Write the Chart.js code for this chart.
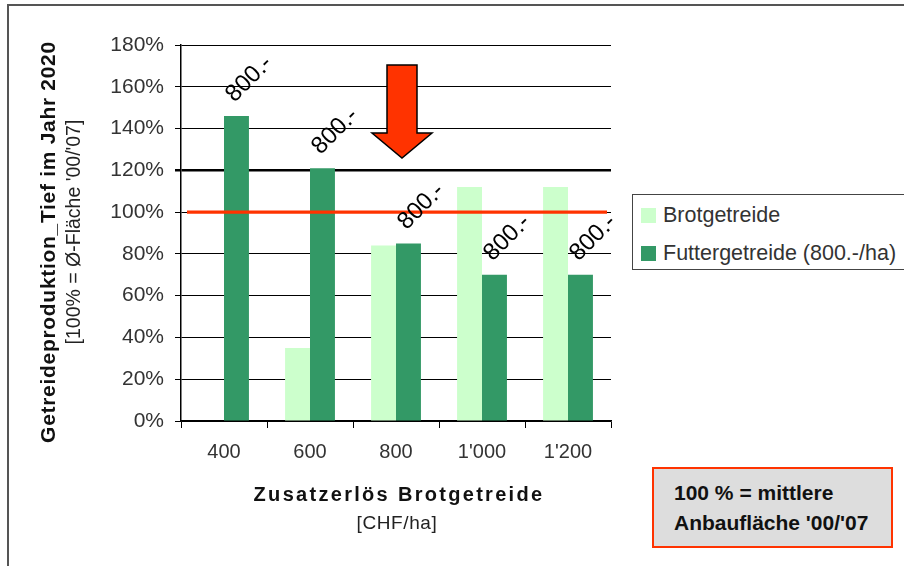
<!DOCTYPE html>
<html>
<head>
<meta charset="utf-8">
<script src="https://cdn.jsdelivr.net/npm/chart.js@4"></script>
<style>
  body { margin: 0; background: #fff; font-family: Arial, "Liberation Sans", sans-serif; }
  #wrap { position: relative; width: 904px; height: 566px; overflow: hidden; }
  #frame { position: absolute; left: 7px; top: 4px; width: 1000px; height: 700px; border-left: 2px solid #555; border-top: 2px solid #555; }
  canvas { position: absolute; left: 0; top: 0; }
  .ytitle { position: absolute; white-space: nowrap; transform: translate(-50%, -50%) rotate(-90deg); color: #111; }
  #yt1 { left: 48px; top: 242px; font-size: 21px; font-weight: bold; letter-spacing: 0.7px; }
  #yt2 { left: 73px; top: 232px; font-size: 19.5px; color: #222; }
  #xt1 { position: absolute; left: 399px; top: 494px; transform: translate(-50%, -50%); font-size: 20px; font-weight: bold; letter-spacing: 2.3px; white-space: nowrap; color: #111; }
  #xt2 { position: absolute; left: 397px; top: 523px; transform: translate(-50%, -50%); font-size: 19px; letter-spacing: 0.6px; white-space: nowrap; color: #222; }
  #legend { position: absolute; left: 632px; top: 194px; width: 300px; height: 74px; border: 1.5px solid #444; background: #fff; }
  .item { position: absolute; left: 8px; font-size: 21.5px; color: #333; white-space: nowrap; line-height: 22px; }
  .item span { display: inline-block; width: 15px; height: 15px; margin-right: 7px; vertical-align: -1px; }
  #note { position: absolute; left: 652px; top: 467px; width: 237px; height: 77px; border: 2px solid #ff3300; background: #dddddd; font-size: 21px; font-weight: bold; color: #111; }
  #note div { position: absolute; left: 20px; white-space: nowrap; }
</style>
</head>
<body>
<div id="wrap">
  <div id="frame"></div>
  <canvas id="chart" width="904" height="566"></canvas>
  <div class="ytitle" id="yt1">Getreideproduktion_Tief im Jahr 2020</div>
  <div class="ytitle" id="yt2">[100% = Ø-Fläche '00/'07]</div>
  <div id="xt1">Zusatzerlös Brotgetreide</div>
  <div id="xt2">[CHF/ha]</div>
  <div id="legend"></div>
  <div id="note"><div style="top:12px">100 % = mittlere</div><div style="top:42px">Anbaufläche '00/'07</div></div>
</div>
<script>
// Getreideproduktion je Zusatzerlös Brotgetreide
const categories = ['400', '600', '800', "1'000", "1'200"];
const brotValues = [0, 35, 84, 112, 112];
const futterValues = [146, 121, 85, 70, 70];
const yTicks = [0, 20, 40, 60, 80, 100, 120, 140, 160, 180];
const futterLabel = '800.-';
const referenceLine = 100;

const seriesNames = ['Brotgetreide', 'Futtergetreide (800.-/ha)'];
const seriesColors = ['#ccffcc', '#339966'];

// legend
document.getElementById('legend').innerHTML = seriesNames.map((name, i) =>
  `<div class="item" style="top:${i === 0 ? 9 : 47}px"><span style="background:${seriesColors[i]}"></span>${name}</div>`
).join('');

const overlayPlugin = {
  id: 'overlay',
  afterDatasetsDraw(chart) {
    const ctx = chart.ctx;
    const y = chart.scales.y;
    const area = chart.chartArea;

    // red 100% line
    const yRef = y.getPixelForValue(referenceLine);
    ctx.save();
    ctx.strokeStyle = '#ff3300';
    ctx.lineWidth = 3.2;
    ctx.beginPath();
    ctx.moveTo(area.left + 6, yRef);
    ctx.lineTo(area.right - 4, yRef);
    ctx.stroke();

    // down arrow
    ctx.fillStyle = '#ff3300';
    ctx.strokeStyle = '#000';
    ctx.lineWidth = 1.5;
    ctx.beginPath();
    ctx.moveTo(387, 65);
    ctx.lineTo(417, 65);
    ctx.lineTo(417, 133);
    ctx.lineTo(432, 133);
    ctx.lineTo(402, 158);
    ctx.lineTo(372, 133);
    ctx.lineTo(387, 133);
    ctx.closePath();
    ctx.fill();
    ctx.stroke();

    // rotated price labels above the Futtergetreide bars
    const meta = chart.getDatasetMeta(1);
    ctx.fillStyle = '#000';
    ctx.font = '24px Arial, "Liberation Sans", sans-serif';
    ctx.textAlign = 'left';
    ctx.textBaseline = 'alphabetic';
    meta.data.forEach(bar => {
      ctx.save();
      ctx.translate(bar.x - 2, bar.y - 13);
      ctx.rotate(-Math.PI / 4);
      ctx.fillText(futterLabel, 0, 0);
      ctx.restore();
    });
    ctx.restore();
  }
};

new Chart(document.getElementById('chart'), {
  type: 'bar',
  data: {
    labels: categories,
    datasets: [
      { label: seriesNames[0], data: brotValues, backgroundColor: seriesColors[0] },
      { label: seriesNames[1], data: futterValues, backgroundColor: seriesColors[1] }
    ]
  },
  options: {
    responsive: false,
    animation: false,
    layout: { padding: { left: 0, top: 45, right: 293, bottom: 0 } },
    datasets: { bar: { barPercentage: 1.0, categoryPercentage: 0.58 } },
    plugins: {
      legend: { display: false },
      tooltip: { enabled: false }
    },
    scales: {
      x: {
        afterFit: s => { s.height = 145; },
        grid: { offset: true, drawOnChartArea: false, drawTicks: true, tickLength: 7, color: '#000' },
        border: { color: '#000', width: 1.5 },
        ticks: { color: '#333', font: { size: 20, family: 'Arial, "Liberation Sans", sans-serif' }, padding: 12 }
      },
      y: {
        min: 0,
        max: 180,
        afterFit: s => { s.width = 181; },
        afterBuildTicks: s => { s.ticks = yTicks.map(v => ({ value: v })); },
        grid: {
          color: '#000',
          lineWidth: c => (c.tick && c.tick.value === 120 ? 2.5 : 1),
          tickLength: 6
        },
        border: { color: '#000', width: 1.5 },
        ticks: {
          color: '#333',
          padding: 11,
          font: { size: 21, family: 'Arial, "Liberation Sans", sans-serif' },
          callback: v => v + '%'
        }
      }
    }
  },
  plugins: [overlayPlugin]
});
</script>
</body>
</html>
